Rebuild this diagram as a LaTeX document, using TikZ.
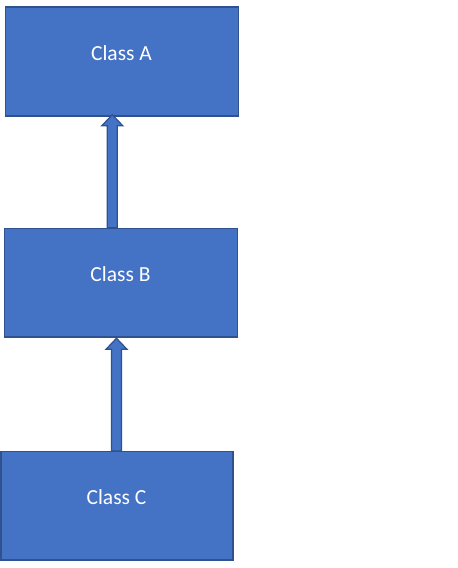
\documentclass[tikz,border=0pt]{standalone}
\usepackage{fontspec}
\setmainfont{Carlito}
\usetikzlibrary{calc}
\definecolor{boxfill}{HTML}{4472C4}
\definecolor{boxline}{HTML}{2F528F}
\tikzset{
  classbox/.style={draw=boxline, fill=boxfill, line width=1.5pt, inner sep=0pt},
  classlabel/.style={text=white, font=\fontsize{21.5}{24}\selectfont, anchor=base, inner sep=0pt},
  arrowshape/.style={draw=boxline, fill=boxfill, line width=1.2pt, line join=miter}
}
\newcommand{\blkarrow}[2]{%
  \filldraw[arrowshape] ($(#1)+(-5,0)$) -- ($(#2)+(-5,11)$) -- ($(#2)+(-10.5,11)$) -- (#2)
    -- ($(#2)+(10.5,11)$) -- ($(#2)+(5,11)$) -- ($(#1)+(5,0)$) -- cycle;}
\begin{document}
\begin{tikzpicture}[x=1pt, y=-1pt]
\useasboundingbox (0,0) rectangle (458,568);
\node[classbox, minimum width=233pt, minimum height=109pt] (A) at (122,61.5) {};
\node[classbox, minimum width=233pt, minimum height=108.5pt] (B) at (121,282.75) {};
\node[classbox, minimum width=232pt, minimum height=108.5pt] (C) at (117,505.85) {};
\node[classlabel] (la) at ($(A.north)+(-0.5,54)$) {Class A};
\node[classlabel] (lb) at ($(B.north)+(-0.5,54)$) {Class B};
\node[classlabel] (lc) at ($(C.north)+(-0.5,54)$) {Class C};
\coordinate (a1s) at ($(B.north)+(-8.7,0)$);
\coordinate (a1e) at ($(a1s |- A.south)+(0,-2)$);
\coordinate (a2s) at ($(C.north)+(-0.5,0)$);
\coordinate (a2e) at ($(a2s |- B.south)+(0,0.5)$);
\blkarrow{a1s}{a1e}
\blkarrow{a2s}{a2e}
\end{tikzpicture}
\end{document}
